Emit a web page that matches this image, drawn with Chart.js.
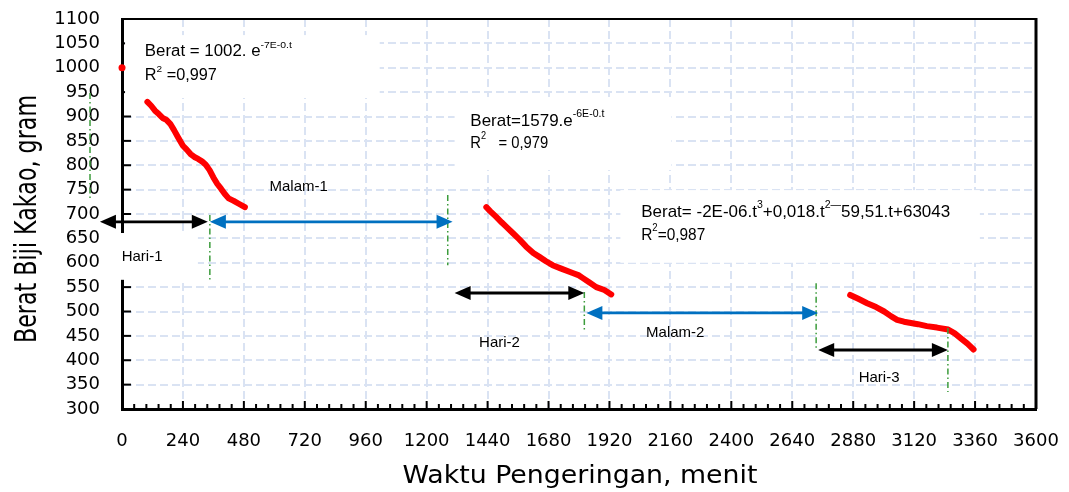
<!DOCTYPE html>
<html>
<head>
<meta charset="utf-8">
<script src="https://cdn.jsdelivr.net/npm/chart.js@4/dist/chart.umd.min.js"></script>
<style>
  html, body { margin: 0; padding: 0; background: #fff; }
  #wrap { width: 1069px; height: 492px; position: relative; }
</style>
</head>
<body>
<div id="wrap"><canvas id="chart"></canvas></div>
<script>
// drying time (menit) vs bean weight (gram)
const startTime = [0];
const startWeight = [1000];

const day1Time   = [100, 115, 130, 145, 160, 175, 190, 205, 220, 240, 255, 270, 285, 300, 315, 330, 345, 360, 375, 390, 405, 420, 440, 460, 484];
const day1Weight = [930, 922, 912, 905, 897, 893, 885, 872, 858, 840, 832, 823, 817, 813, 808, 801, 790, 775, 762, 752, 741, 732, 727, 721, 714];

const day2Time   = [1435, 1450, 1474, 1495, 1513, 1539, 1565, 1592, 1620, 1644, 1670, 1696, 1730, 1775, 1800, 1814, 1840, 1868, 1900, 1927];
const day2Weight = [714, 706, 694, 683, 674, 661, 648, 633, 620, 612, 603, 595, 588, 579, 574, 569, 560, 550, 544, 535];

const day3Time   = [2868, 2900, 2935, 2970, 3002, 3030, 3053, 3080, 3102, 3135, 3170, 3210, 3254, 3280, 3304, 3330, 3354];
const day3Weight = [534, 526, 517, 509, 500, 490, 483, 479, 477, 474, 470, 467, 463, 455, 445, 434, 422];

const xTicks = { min: 0, max: 3600, step: 240 };
const yTicks = { min: 300, max: 1100, step: 50 };

// period arrows (t1 -> t2 at weight w)
const dayArrows   = [[-87, 338, 684], [1310, 1821, 538], [2742, 3253, 421]];
const nightArrows = [[346, 1302, 684], [1829, 2742, 497]];
// dash-dot markers: [t, wTop, wBottom]
const markers = [[-126, 948, 729], [346, 698, 565], [1283, 739, 595], [1821, 540, 458], [2734, 558, 425], [3253, 466, 335]];

const periodLabels = [
  ['Hari-1', 79, 612], ['Malam-1', 696, 755], ['Hari-2', 1487, 435],
  ['Malam-2', 2179, 456], ['Hari-3', 2982, 364]
];

// white label boxes: [t1, t2, wTop, wBottom]
const boxes = [[12, 1015, 1067, 938], [1310, 2164, 940, 790], [1963, 3379, 749, 600], [-75, 299, 661, 565]];

// regression notes: text, weight, width in px
const equations = [
  { t: 90,   size: 16, lines: [['Berat = 1002. e^{-7E-0.t}', 1033, 147], ['R^{2} =0,997', 984, 72]] },
  { t: 1372, size: 17, lines: [['Berat=1579.e^{-6E-0.t}', 890, 134], ['R^{2}   = 0,979', 845, 78]] },
  { t: 2045, size: 17, lines: [['Berat= -2E-06.t^{3}+0,018.t^{2—}59,51.t+63043', 704, 309], ['R^{2}=0,987', 657, 64]] }
];

const pts = (xs, ys) => xs.map((v, i) => ({ x: v, y: ys[i] }));

function drawRich(ctx, str, px, py, size, width) {
  const parts = str.split(/(\^\{[^}]*\})/).filter(s => s.length).map(p => {
    const sup = p.startsWith('^{');
    return { sup, txt: sup ? p.slice(2, -1) : p, fs: sup ? size * 0.62 : size };
  });
  let natural = 0;
  parts.forEach(p => {
    ctx.font = p.fs + 'px "Liberation Sans", Arial, sans-serif';
    natural += ctx.measureText(p.txt).width;
  });
  ctx.save();
  ctx.translate(px, py);
  ctx.scale(width / natural, 1);
  ctx.textBaseline = 'middle';
  ctx.textAlign = 'left';
  ctx.fillStyle = '#000';
  let cx = 0;
  parts.forEach(p => {
    ctx.font = p.fs + 'px "Liberation Sans", Arial, sans-serif';
    ctx.fillText(p.txt, cx, p.sup ? -size * 0.42 : 0);
    cx += ctx.measureText(p.txt).width;
  });
  ctx.restore();
}

function arrow(ctx, x1, x2, y, color) {
  const hl = 16, hw = 7;
  ctx.strokeStyle = color;
  ctx.fillStyle = color;
  ctx.lineWidth = 2.8;
  ctx.beginPath(); ctx.moveTo(x1 + hl - 2, y); ctx.lineTo(x2 - hl + 2, y); ctx.stroke();
  ctx.beginPath(); ctx.moveTo(x1, y); ctx.lineTo(x1 + hl, y - hw); ctx.lineTo(x1 + hl, y + hw); ctx.closePath(); ctx.fill();
  ctx.beginPath(); ctx.moveTo(x2, y); ctx.lineTo(x2 - hl, y - hw); ctx.lineTo(x2 - hl, y + hw); ctx.closePath(); ctx.fill();
}

const overlay = {
  id: 'overlay',
  beforeDatasetsDraw(chart) {
    const { ctx, chartArea: a, scales: { x, y } } = chart;
    ctx.save();
    ctx.strokeStyle = '#000';
    ctx.lineWidth = 2;
    ctx.beginPath(); ctx.moveTo(a.left, a.top); ctx.lineTo(a.right, a.top); ctx.stroke();
    ctx.lineWidth = 3;
    ctx.beginPath(); ctx.moveTo(a.right, a.top - 1); ctx.lineTo(a.right, a.bottom); ctx.stroke();

    // inward ticks
    ctx.lineWidth = 2;
    for (let t = xTicks.min; t <= xTicks.max; t += 48) {
      const px = x.getPixelForValue(t);
      const len = t % 240 === 0 ? 8 : 5;
      ctx.beginPath(); ctx.moveTo(px, a.bottom); ctx.lineTo(px, a.bottom - len); ctx.stroke();
    }
    for (let w = yTicks.min; w <= yTicks.max; w += yTicks.step) {
      const py = y.getPixelForValue(w);
      ctx.beginPath(); ctx.moveTo(a.left, py); ctx.lineTo(a.left + 9, py); ctx.stroke();
    }

    ctx.fillStyle = '#fff';
    boxes.forEach(([t1, t2, w1, w2]) => {
      const x1 = x.getPixelForValue(t1), x2 = x.getPixelForValue(t2);
      const y1 = y.getPixelForValue(w1), y2 = y.getPixelForValue(w2);
      ctx.fillRect(x1, y1, x2 - x1, y2 - y1);
    });
    ctx.restore();
  },
  afterDatasetsDraw(chart) {
    const { ctx, scales: { x, y } } = chart;
    ctx.save();

    ctx.strokeStyle = '#3c9c3c';
    ctx.lineWidth = 1.5;
    ctx.setLineDash([6, 3, 1.5, 3]);
    markers.forEach(([t, w1, w2]) => {
      const px = x.getPixelForValue(t);
      ctx.beginPath(); ctx.moveTo(px, y.getPixelForValue(w1)); ctx.lineTo(px, y.getPixelForValue(w2)); ctx.stroke();
    });
    ctx.setLineDash([]);

    dayArrows.forEach(([t1, t2, w]) => arrow(ctx, x.getPixelForValue(t1), x.getPixelForValue(t2), y.getPixelForValue(w), '#000'));
    nightArrows.forEach(([t1, t2, w]) => arrow(ctx, x.getPixelForValue(t1), x.getPixelForValue(t2), y.getPixelForValue(w), '#0070c0'));

    ctx.fillStyle = '#000';
    ctx.font = '15px "Liberation Sans", Arial, sans-serif';
    ctx.textAlign = 'center';
    ctx.textBaseline = 'middle';
    periodLabels.forEach(([txt, t, w]) => ctx.fillText(txt, x.getPixelForValue(t), y.getPixelForValue(w)));

    equations.forEach(eq => {
      eq.lines.forEach(([txt, w, width]) => drawRich(ctx, txt, x.getPixelForValue(eq.t), y.getPixelForValue(w), eq.size, width));
    });

    // axis titles
    ctx.fillStyle = '#000';
    ctx.textAlign = 'center';
    ctx.textBaseline = 'middle';
    ctx.font = '22px "DejaVu Sans", sans-serif';
    const yt = 'Berat Biji Kakao, gram';
    ctx.save();
    ctx.translate(28, 219);
    ctx.rotate(-Math.PI / 2);
    ctx.scale(248 / ctx.measureText(yt).width, 1.35);
    ctx.fillText(yt, 0, 0);
    ctx.restore();

    ctx.font = '25px "DejaVu Sans", sans-serif';
    const xt = 'Waktu Pengeringan, menit';
    ctx.save();
    ctx.translate(580, 476);
    ctx.scale(355 / ctx.measureText(xt).width, 1);
    ctx.fillText(xt, 0, 0);
    ctx.restore();

    ctx.restore();
  }
};

const red = '#ff0000';
const noPad = s => { s.paddingLeft = 0; s.paddingRight = 0; s.paddingTop = 0; s.paddingBottom = 0; };
const redLine = { borderColor: red, borderWidth: 6, pointRadius: 0, borderJoinStyle: 'round', borderCapStyle: 'round' };

new Chart(document.getElementById('chart'), {
  type: 'line',
  data: {
    datasets: [
      { data: pts(startTime, startWeight), showLine: false, pointRadius: 3.5, pointBackgroundColor: red, pointBorderWidth: 0, clip: false },
      { data: pts(day1Time, day1Weight), ...redLine },
      { data: pts(day2Time, day2Weight), ...redLine },
      { data: pts(day3Time, day3Weight), ...redLine }
    ]
  },
  options: {
    responsive: true,
    maintainAspectRatio: false,
    animation: false,
    layout: { padding: { top: 19, right: 33, left: 0, bottom: 0 } },
    plugins: { legend: { display: false }, tooltip: { enabled: false } },
    scales: {
      x: {
        type: 'linear',
        min: xTicks.min,
        max: xTicks.max,
        afterFit: s => { s.height = 83; noPad(s); },
        ticks: { stepSize: xTicks.step, padding: 22, color: '#000', autoSkip: false, maxRotation: 0,
                 font: { family: 'DejaVu Sans', size: 18 }, callback: v => String(v) },
        grid: { color: '#dae3f3', lineWidth: 2, drawTicks: false },
        border: { display: true, color: '#000', width: 3, dash: [8, 4] }
      },
      y: {
        min: yTicks.min,
        max: yTicks.max,
        afterFit: s => { s.width = 122; noPad(s); },
        ticks: { stepSize: yTicks.step, padding: 22, color: '#000', autoSkip: false,
                 font: { family: 'DejaVu Sans', size: 18 }, callback: v => String(v) },
        grid: { color: '#dae3f3', lineWidth: 2, drawTicks: false },
        border: { display: true, color: '#000', width: 3, dash: [8, 4] }
      }
    }
  },
  plugins: [overlay]
});
</script>
</body>
</html>
